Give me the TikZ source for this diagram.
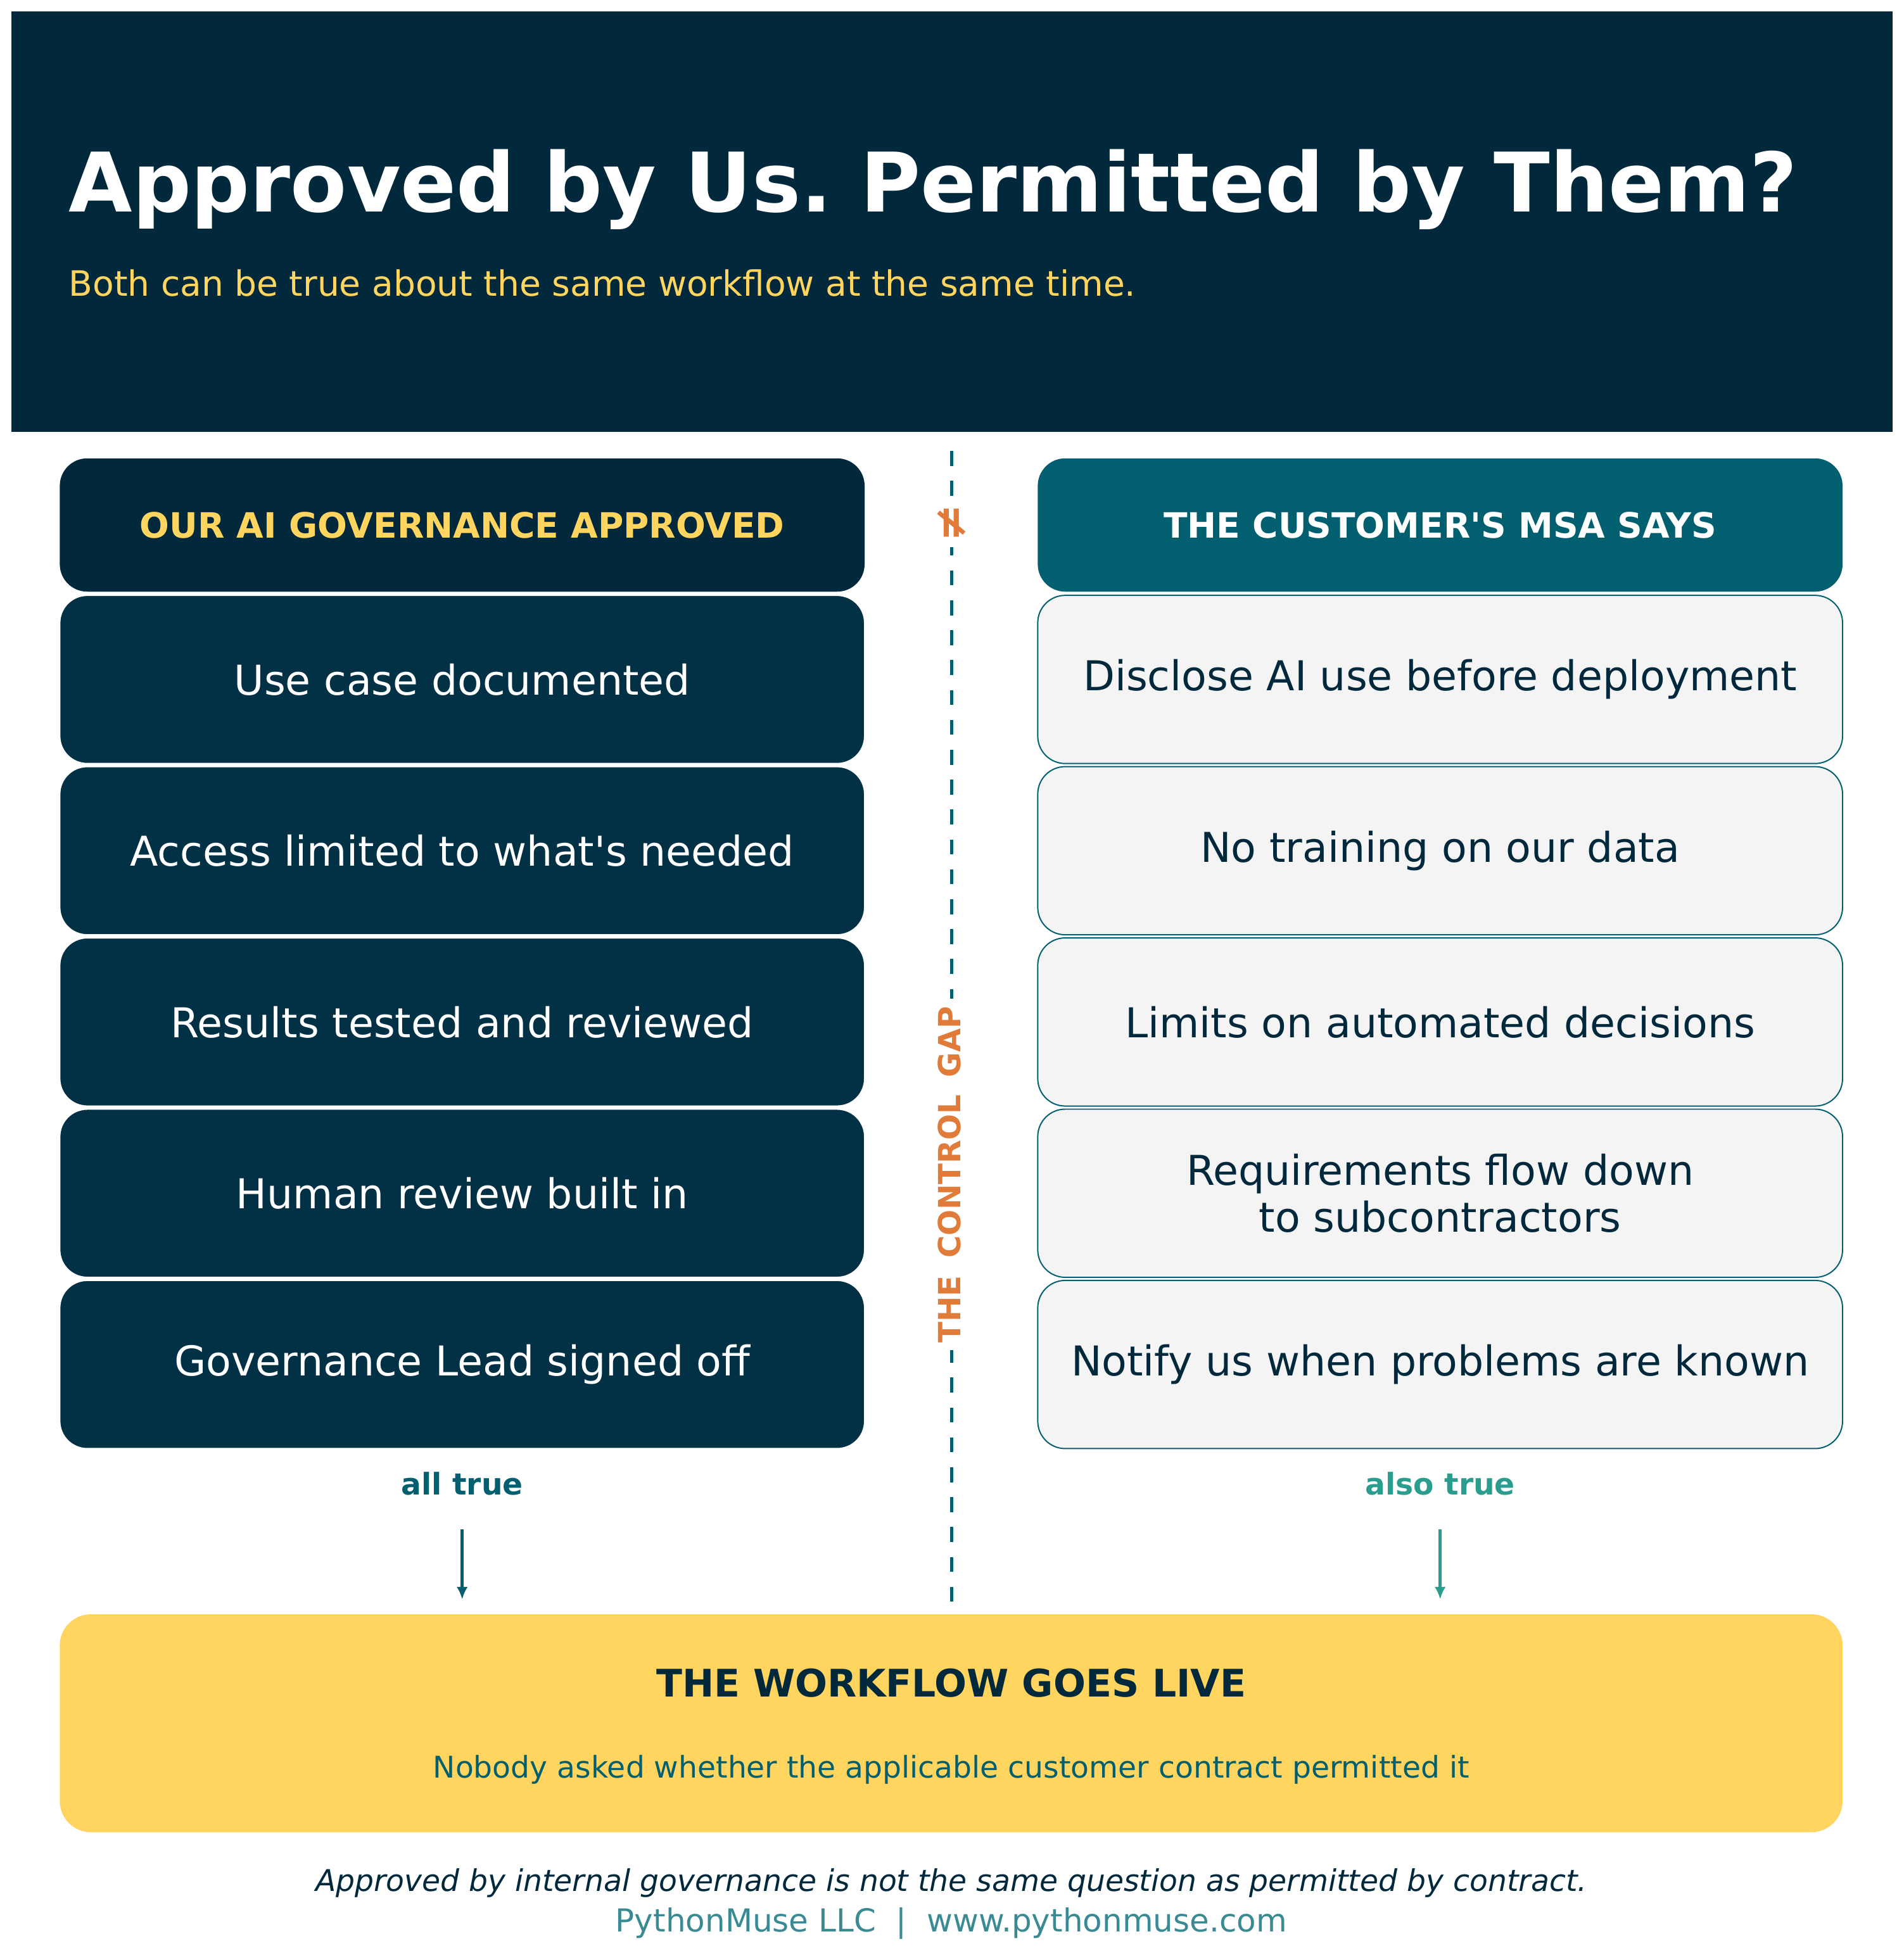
\documentclass[tikz,border=0pt]{standalone}
\usepackage{fontspec}
\setmainfont{DejaVu Sans}
\usetikzlibrary{arrows.meta}
\definecolor{navy}{HTML}{01283B}
\definecolor{navyb}{HTML}{023045}
\definecolor{teal}{HTML}{025F6F}
\definecolor{gold}{HTML}{FFD55F}
\definecolor{orng}{HTML}{E07B39}
\definecolor{sea}{HTML}{2A9D8F}
\definecolor{lgray}{HTML}{F4F4F4}
\definecolor{foot}{HTML}{3A8A94}
\newcommand{\apo}{\textquotesingle}
\frenchspacing
\begin{document}
\begin{tikzpicture}[x=1pt,y=-1pt,
  box/.style={rounded corners=22pt,minimum width=646pt,minimum height=135pt,align=center,font=\fontsize{33}{38}\selectfont,inner sep=0pt},
  lbox/.style={box,fill=navyb,draw=white,line width=1pt,text=white},
  rbox/.style={box,fill=lgray,draw=teal,line width=1pt,text=navy},
  hbox/.style={box,minimum height=107pt,font=\fontsize{28}{32}\selectfont\bfseries}]
\useasboundingbox (0,0) rectangle (1528,1568);
\fill[white] (0,0) rectangle (1528,1568);
\fill[navy] (9,9) rectangle (1519,347);
\node[anchor=base west,text=white,font=\fontsize{66}{70}\selectfont\bfseries,inner sep=0] (title) at (55,170) {Approved by Us. Permitted by Them?};
\node[anchor=west,text=gold,font=\fontsize{28}{32}\selectfont,inner sep=0] (sub) at (55,227) {Both can be true about the same workflow at the same time.};
% dashed gap
\draw[teal,line width=2.5pt,dash pattern=on 12pt off 12pt] (764,362) -- (764,1295);
\node[fill=white,rotate=90,text=orng,font=\fontsize{36}{40}\selectfont\bfseries,inner sep=4pt] (ne) at (764,420) {≠};
\node[fill=white,rotate=90,text=orng,font=\fontsize{24.5}{28}\selectfont\bfseries,inner sep=6pt] (gap) at (762,943) {THE\hspace{14pt}CONTROL\hspace{14pt}GAP};
% left
\node[hbox,fill=navy,text=gold] (lh) at (371,421.5) {OUR AI GOVERNANCE APPROVED};
\node[lbox] (l1) at (371,545.5) {Use case documented};
\node[lbox] (l2) at (371,683) {Access limited to what\apo s needed};
\node[lbox] (l3) at (371,820.5) {Results tested and reviewed};
\node[lbox] (l4) at (371,958) {Human review built in};
\node[lbox] (l5) at (371,1095.5) {Governance Lead signed off};
% right
\node[hbox,fill=teal,text=white] (rh) at (1156,421.5) {THE CUSTOMER\apo S MSA SAYS};
\node[rbox] (r1) at (1156,545.5) {Disclose AI use before deployment};
\node[rbox] (r2) at (1156,683) {No training on our data};
\node[rbox] (r3) at (1156,820.5) {Limits on automated decisions};
\node[rbox] (r4) at (1156,958) {Requirements flow down\\to subcontractors};
\node[rbox] (r5) at (1156,1095.5) {Notify us when problems are known};
% labels and arrows
\node[text=teal,font=\fontsize{24}{28}\selectfont\bfseries] (at) at (371,1191) {all true};
\node[text=sea,font=\fontsize{24}{28}\selectfont\bfseries] (st) at (1156,1191) {also true};
\coordinate (a1) at (371,1228); \coordinate (a2) at (371,1284);
\coordinate (b1) at (1156,1228); \coordinate (b2) at (1156,1284);
\draw[teal,line width=2.5pt,-{Latex[length=10pt,width=9pt]}] (a1) -- (a2);
\draw[sea,line width=2.5pt,-{Latex[length=10pt,width=9pt]}] (b1) -- (b2);
% bottom
\node[fill=gold,rounded corners=25pt,minimum width=1431pt,minimum height=175pt,inner sep=0] (live) at (763.5,1383.5) {};
\node[text=navy,font=\fontsize{30.5}{34}\selectfont\bfseries] (lt) at (763.5,1351) {THE WORKFLOW GOES LIVE};
\node[text=teal,font=\fontsize{24}{28}\selectfont] (ls) at (763.5,1421) {Nobody asked whether the applicable customer contract permitted it};
\node[text=navy,font=\fontsize{24}{28}\selectfont\itshape] (f1) at (763.5,1512) {Approved by internal governance is not the same question as permitted by contract.};
\node[text=foot,font=\fontsize{25.4}{29}\selectfont] (f2) at (763.5,1544) {PythonMuse LLC\ \ |\ \ www.pythonmuse.com};
\end{tikzpicture}
\end{document}
